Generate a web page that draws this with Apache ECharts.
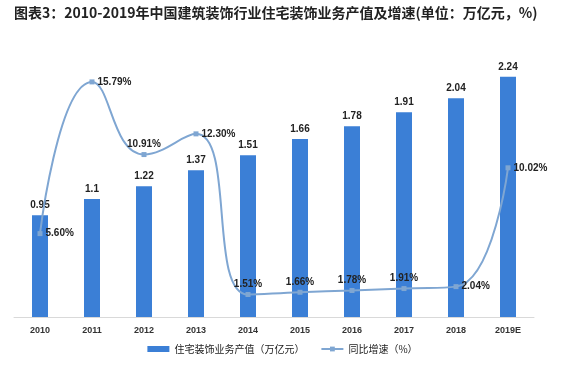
<!DOCTYPE html>
<html><head><meta charset="utf-8">
<script src="https://cdn.jsdelivr.net/npm/echarts@6/dist/echarts.min.js"></script>
<style>html,body{margin:0;padding:0;background:#fff}#c{width:565px;height:367px}</style>
</head><body><div id="c"></div>
<script>
const categories = ['2010','2011','2012','2013','2014','2015','2016','2017','2018','2019E'];
const outputValues = [0.95, 1.1, 1.22, 1.37, 1.51, 1.66, 1.78, 1.91, 2.04, 2.24];
const growthRates = [5.60, 15.79, 10.91, 12.30, 1.51, 1.66, 1.78, 1.91, 2.04, 10.02];
const growthLabelPos = ['right','right','top','right','top','top','top','top','right','right'];

const chart = echarts.init(document.getElementById('c'));
chart.setOption({
  animation: false,
  title: {
    text: '图表3：2010-2019年中国建筑装饰行业住宅装饰业务产值及增速(单位：万亿元，%)',
    left: 9, top: 1,
    textStyle: {fontSize: 14, fontWeight: 'bold', color: '#222', fontFamily: 'Noto Sans CJK SC'}
  },
  legend: {
    bottom: 8, left: 'center', itemGap: 16, itemWidth: 22, itemHeight: 6,
    textStyle: {fontSize: 10, color: '#222', fontFamily: 'Noto Sans CJK SC'},
    data: [{name: '住宅装饰业务产值（万亿元）', icon: 'rect'}, {name: '同比增速（%）'}]
  },
  grid: {left: 14, right: 31, top: 49, bottom: 50},
  xAxis: {
    type: 'category', data: categories,
    axisLine: {lineStyle: {color: '#d9d9d9'}},
    axisTick: {show: false},
    axisLabel: {fontSize: 9, fontWeight: 'bold', color: '#333', margin: 9, fontFamily: 'Liberation Sans'}
  },
  yAxis: [
    {type: 'value', min: 0, max: 2.5, show: false, splitLine: {show: false}},
    {type: 'value', min: 0, max: 18, show: false, splitLine: {show: false}}
  ],
  series: [
    {
      name: '住宅装饰业务产值（万亿元）', type: 'bar', data: outputValues, barWidth: 16,
      itemStyle: {color: '#3b7fd6'},
      label: {show: true, position: 'top', fontSize: 10, fontWeight: 'bold', color: '#222', distance: 5, fontFamily: 'Liberation Sans'}
    },
    {
      name: '同比增速（%）', type: 'line', yAxisIndex: 1, smooth: 0.5,
      data: growthRates.map((v, i) => ({value: v, label: {position: growthLabelPos[i]}})),
      symbol: 'rect', symbolSize: 5,
      lineStyle: {color: '#7fa6d2', width: 2},
      itemStyle: {color: '#7fa6d2'},
      label: {show: true, fontSize: 10, fontWeight: 'bold', color: '#222', distance: 3, fontFamily: 'Liberation Sans',
        formatter: p => p.value.toFixed(2) + '%'}
    }
  ]
});
</script></body></html>
